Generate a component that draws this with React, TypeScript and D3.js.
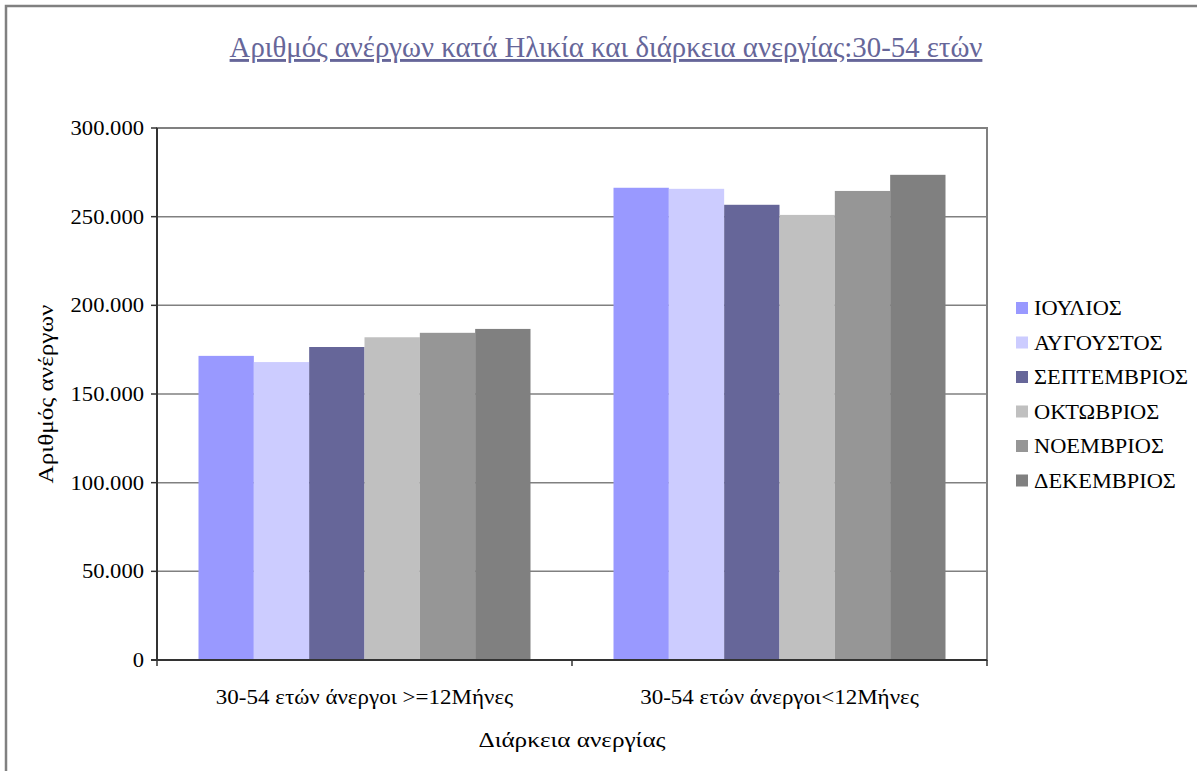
import { scaleBand, scaleLinear, range } from "d3";
import type { ReactNode } from "react";

const categories = ["30-54 ετών άνεργοι >=12Μήνες", "30-54 ετών άνεργοι<12Μήνες"];
const months = ["ΙΟΥΛΙΟΣ", "ΑΥΓΟΥΣΤΟΣ", "ΣΕΠΤΕΜΒΡΙΟΣ", "ΟΚΤΩΒΡΙΟΣ", "ΝΟΕΜΒΡΙΟΣ", "ΔΕΚΕΜΒΡΙΟΣ"];
const colors = ["#9999FF", "#CCCCFF", "#666699", "#C0C0C0", "#969696", "#808080"];

// values per month, [>=12 months, <12 months]
const longTerm = [171500, 168000, 176500, 182000, 184500, 186700];
const shortTerm = [266300, 265700, 256700, 251000, 264500, 273600];

const yTicks = [0, 50000, 100000, 150000, 200000, 250000, 300000];

const W = 1197;
const H = 771;
const m = { left: 157, right: 987, top: 128, bottom: 660 };
const font = "'Liberation Serif', 'Times New Roman', serif";

const fmt = (v: number) => (v === 0 ? "0" : (v / 1000).toFixed(0) + ".000");

// text slightly stretched horizontally, like the original (wider) font
function T({
  x,
  y,
  sx = 1.15,
  size = 20,
  anchor = "start",
  rot = 0,
  children,
}: {
  x: number;
  y: number;
  sx?: number;
  size?: number;
  anchor?: string;
  rot?: number;
  children: ReactNode;
}) {
  return (
    <text
      transform={`translate(${x},${y}) rotate(${rot}) scale(${sx},1)`}
      textAnchor={anchor}
      fontSize={size}
      fill="#000"
    >
      {children}
    </text>
  );
}

export default function App() {
  const x0 = scaleBand<string>().domain(categories).range([m.left, m.right]).padding(0);
  const bw = x0.bandwidth();
  const x1 = scaleBand<string>().domain(months).range([bw * 0.1, bw * 0.9]).padding(0);
  const y = scaleLinear().domain([0, 300000]).range([m.bottom, m.top]);

  const series = [longTerm, shortTerm];

  return (
    <svg
      width={W}
      height={H}
      style={{ position: "absolute", left: 0, top: 0, background: "#fff" }}
      fontFamily={font}
    >
      <rect x={6} y={6} width={W + 20} height={H + 20} fill="#fff" stroke="#808080" strokeWidth={2.5} />

      {/* title */}
      <text x={606} y={57} textAnchor="middle" fontSize={28.8} fill="#666699" textDecoration="underline">
        Αριθμός ανέργων κατά Ηλικία και διάρκεια ανεργίας:30-54 ετών
      </text>

      {/* plot area border */}
      <rect x={m.left} y={m.top} width={m.right - m.left} height={m.bottom - m.top} fill="none" stroke="#808080" strokeWidth={2} />

      {/* gridlines */}
      {yTicks.slice(1).map((t) => (
        <line key={t} x1={m.left} x2={m.right} y1={y(t)} y2={y(t)} stroke="#808080" strokeWidth={1.5} />
      ))}

      {/* bars */}
      {categories.map((c, ci) => (
        <g key={c} transform={`translate(${x0(c)},0)`}>
          {months.map((mo, i) => (
            <rect
              key={mo}
              x={x1(mo)}
              y={y(series[ci][i])}
              width={x1.bandwidth()}
              height={y(0) - y(series[ci][i])}
              fill={colors[i]}
            />
          ))}
        </g>
      ))}

      {/* y axis */}
      <line x1={m.left} x2={m.left} y1={m.top} y2={m.bottom} stroke="#333" strokeWidth={2} />
      {yTicks.map((t) => (
        <g key={t}>
          <line x1={m.left - 6} x2={m.left} y1={y(t)} y2={y(t)} stroke="#333" strokeWidth={1.5} />
          <T x={m.left - 13} y={y(t) + 7} anchor="end" sx={1.13}>
            {fmt(t)}
          </T>
        </g>
      ))}

      {/* x axis */}
      <line x1={m.left - 6} x2={m.right} y1={m.bottom} y2={m.bottom} stroke="#333" strokeWidth={2} />
      {range(categories.length + 1).map((i) => {
        const xx = m.left + i * bw;
        return <line key={i} x1={xx} x2={xx} y1={m.bottom} y2={m.bottom + 6} stroke="#333" strokeWidth={1.5} />;
      })}
      {categories.map((c) => (
        <T key={c} x={(x0(c) ?? 0) + bw / 2} y={704} anchor="middle">
          {c}
        </T>
      ))}

      <T x={(m.left + m.right) / 2} y={747} anchor="middle" size={21} sx={1.2}>
        Διάρκεια ανεργίας
      </T>
      <T x={53} y={(m.top + m.bottom) / 2} anchor="middle" size={21} sx={1.2} rot={-90}>
        Αριθμός ανέργων
      </T>

      {/* legend */}
      {months.map((mo, i) => {
        const ly = 308 + i * 34.5;
        return (
          <g key={mo}>
            <rect x={1016} y={ly - 6} width={12} height={12} fill={colors[i]} />
            <T x={1034} y={ly + 7} sx={1.12}>
              {mo}
            </T>
          </g>
        );
      })}
    </svg>
  );
}
